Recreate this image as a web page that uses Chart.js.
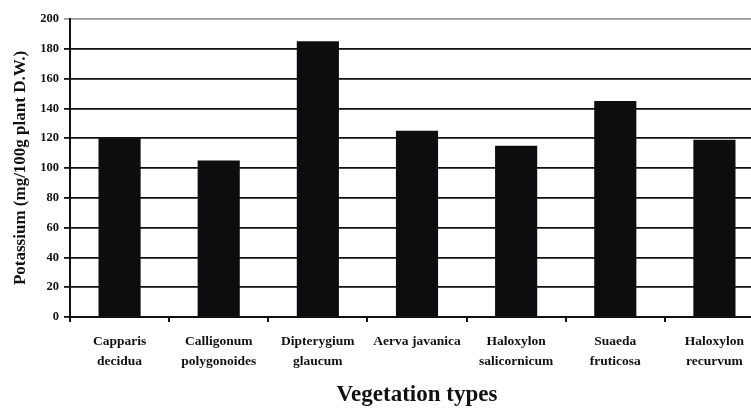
<!DOCTYPE html>
<html>
<head>
<meta charset="utf-8">
<script src="https://cdn.jsdelivr.net/npm/chart.js@4"></script>
<style>
html,body{margin:0;padding:0;background:#fff;overflow:hidden;}
#wrap{width:764px;height:410px;position:relative;}
</style>
</head>
<body>
<div id="wrap"><canvas id="c"></canvas></div>
<script>
const categories = [
  ["Capparis","decidua"],
  ["Calligonum","polygonoides"],
  ["Dipterygium","glaucum"],
  ["Aerva javanica"],
  ["Haloxylon","salicornicum"],
  ["Suaeda","fruticosa"],
  ["Haloxylon","recurvum"]
];
const potassium = [120, 105, 185, 125, 115, 145, 119];
const yTicks = [0,20,40,60,80,100,120,140,160,180,200];

const serif = "'Liberation Serif','DejaVu Serif','Times New Roman',serif";

new Chart(document.getElementById('c'), {
  type: 'bar',
  data: {
    labels: categories,
    datasets: [{
      data: potassium,
      backgroundColor: '#0d0d0f',
      borderWidth: 0,
      barPercentage: 0.85,
      categoryPercentage: 0.5
    }]
  },
  options: {
    responsive: true,
    maintainAspectRatio: false,
    animation: false,
    devicePixelRatio: 1,
    layout: { padding: { top: 19, left: 4, right: 0, bottom: 0 } },
    plugins: { legend: { display: false }, tooltip: { enabled: false } },
    scales: {
      x: {
        offset: true,
        grid: { display: true, drawOnChartArea: false, offset: true, color: '#111', lineWidth: 2, tickLength: 5 },
        border: { display: true, color: '#111', width: 2 },
        ticks: {
          color: '#111',
          font: { family: serif, size: 13.5, weight: 'bold', lineHeight: 1.5 },
          padding: 9,
          maxRotation: 0,
          autoSkip: false
        },
        title: {
          display: true,
          text: 'Vegetation types',
          color: '#111',
          font: { family: serif, size: 23, weight: 'bold' },
          padding: { top: 0, bottom: 1 }
        },
        afterFit: (s) => { s.height = 93; }
      },
      y: {
        min: 0, max: 200,
        afterBuildTicks: (s) => { s.ticks = yTicks.map(v => ({ value: v })); },
        grid: {
          color: (ctx) => ctx.tick && ctx.tick.value === 200 ? '#9a9a9a' : '#111',
          lineWidth: 1.8,
          tickLength: 6
        },
        border: { display: true, color: '#111', width: 2 },
        ticks: {
          color: '#111',
          font: { family: serif, size: 12.5, weight: 'bold' },
          padding: 5
        },
        title: {
          display: true,
          text: 'Potassium (mg/100g plant D.W.)',
          color: '#111',
          font: { family: serif, size: 17, weight: 'bold' },
          padding: { top: 6, bottom: 0 }
        },
        afterFit: (s) => { s.width = 66; }
      }
    }
  }
});
</script>
</body>
</html>
